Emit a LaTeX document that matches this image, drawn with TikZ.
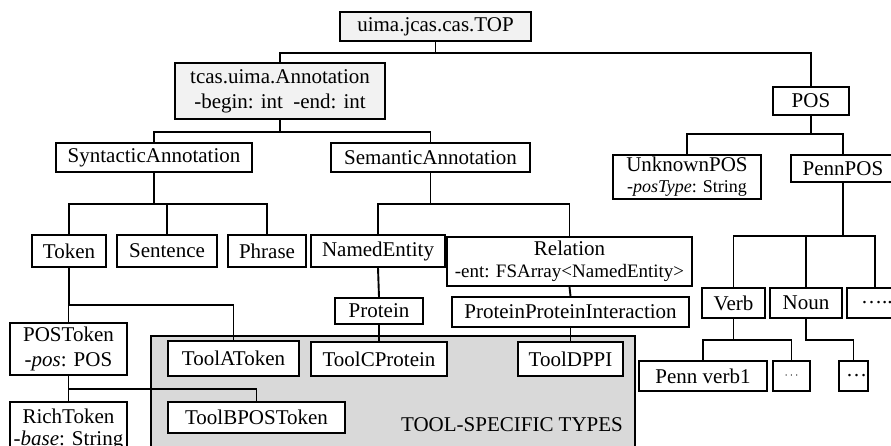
\documentclass[tikz,border=0pt]{standalone}
\usepackage{fontspec}
\setmainfont{Liberation Serif}
\tikzset{
  typebox/.style = {draw, fill = white, line width = 1.9pt, inner sep = 0pt, align = center},
  rootbox/.style = {typebox, fill = gray!10},
  link/.style = {line width = 1.9pt}
}
\begin{document}
\begin{tikzpicture}[x = 1pt, y = -1pt, font = \fontsize{21}{25}\selectfont]
      \clip (0, 0) rectangle (891, 446);
      \fill [white] (0, 0) rectangle (891, 446);
      \draw [line width = 1.9pt, fill = gray!30] (151, 336) rectangle (635, 460);
      \node at (512, 425) {TOOL-SPECIFIC TYPES};
      % upper levels
      \node [rootbox, minimum width = 191pt, minimum height = 29pt] (top) at (435.5, 26.5) {uima.jcas.cas.TOP};
      \node [rootbox, minimum width = 210pt, minimum height = 56pt] (ann) at (280, 91) {tcas.uima.Annotation\\-begin: int\ \ -end: int};
      \node [typebox, minimum width = 76pt, minimum height = 28pt] (pos) at (811, 101) {POS};
      \node [typebox, minimum width = 196pt, minimum height = 29pt] (syn) at (154, 157.5) {SyntacticAnnotation};
      \node [typebox, minimum width = 199pt, minimum height = 29pt] (sem) at (430.5, 157.5) {SemanticAnnotation};
      \node [typebox, minimum width = 148pt, minimum height = 44pt] (unk) at (687, 177) {UnknownPOS\\[-4pt]{\fontsize{18}{18}\selectfont\textit{-posType}: String}};
      \node [typebox, minimum width = 104pt, minimum height = 27pt] (penn) at (843, 168.5) {PennPOS};
      % syntactic and semantic types
      \node [typebox, minimum width = 74pt, minimum height = 32pt] (token) at (69, 251) {Token};
      \node [typebox, minimum width = 100pt, minimum height = 32pt] (sentence) at (167, 251) {Sentence};
      \node [typebox, minimum width = 78pt, minimum height = 32pt] (phrase) at (267, 251) {Phrase};
      \node [typebox, minimum width = 134pt, minimum height = 32pt] (entity) at (378, 251) {NamedEntity};
      \node [typebox, minimum width = 245pt, minimum height = 49pt] (relation) at (569.5, 261.5) {Relation\\[-3pt]{\fontsize{19}{19}\selectfont -ent: FSArray<NamedEntity>}};
      \node [typebox, minimum width = 88pt, minimum height = 26pt] (protein) at (379, 311) {Protein};
      \node [typebox, minimum width = 237pt, minimum height = 30pt] (ppi) at (570.5, 312) {ProteinProteinInteraction};
      \node [typebox, minimum width = 117pt, minimum height = 52pt] (postoken) at (68.5, 349) {POSToken\\\textit{-pos}: POS};
      \node [typebox, minimum width = 117pt, minimum height = 50pt, anchor = north] (rich) at (68.5, 401) {\rule{0pt}{19pt}RichToken\\[-3pt]\textit{-base}: String};
      % tool-specific types
      \node [typebox, minimum width = 131pt, minimum height = 35pt] (toola) at (233.5, 358.5) {ToolAToken};
      \node [typebox, minimum width = 136pt, minimum height = 34pt] (toolc) at (379, 359) {ToolCProtein};
      \node [typebox, minimum width = 105pt, minimum height = 34pt] (toold) at (570.5, 359) {ToolDPPI};
      \node [typebox, minimum width = 177pt, minimum height = 31pt] (toolb) at (256.5, 417.5) {ToolBPOSToken};
      % penn tags
      \node [typebox, minimum width = 63pt, minimum height = 30pt] (verb) at (733.5, 303) {Verb};
      \node [typebox, minimum width = 72pt, minimum height = 30pt] (noun) at (806, 303) {Noun};
      \node [typebox, minimum width = 56pt, minimum height = 30pt] (moretags) at (875, 303) {\,…..};
      \node [typebox, minimum width = 128pt, minimum height = 30pt] (verbone) at (703, 376) {Penn verb1};
      \node [typebox, minimum width = 37pt, minimum height = 30pt] (verbdots) at (791.5, 376) {\fontsize{12}{12}\selectfont$\cdots$};
      \node [typebox, minimum width = 29pt, minimum height = 30pt] (noundots) at (853.5, 376) {\hspace*{6pt}…};
      % connectors
      \draw [link] (top.south) -- ++(0, 11) -| (ann.north);
      \draw [link] (top.south) -- ++(0, 11) -| (pos.north);
      \draw [link] (ann.south) -- ++(0, 12) -| (syn.north);
      \draw [link] (ann.south) -- ++(0, 12) -| (sem.north);
      \draw [link] (pos.south) -- ++(0, 18) -| (unk.north);
      \draw [link] (pos.south) -- ++(0, 18) -| (penn.north);
      \foreach \child in {token, sentence, phrase}{
        \draw [link] (syn.south) -- ++(0, 31) -| (\child.north);
      }
      \foreach \child in {entity, relation}{
        \draw [link] (sem.south) -- ++(0, 31) -| (\child.north);
      }
      \foreach \child in {verb, noun, moretags}{
        \draw [link] (penn.south) -- ++(0, 53) -| (\child.north);
      }
      \draw [link] (token.south) -- ++(0, 37) -| (postoken.north);
      \draw [link] (token.south) -- ++(0, 37) -| (toola.north);
      \draw [link] (postoken.south) -- ++(0, 13) -| (rich.north);
      \draw [link] (postoken.south) -- ++(0, 13) -| (toolb.north);
      \draw [link] (entity.south) -- (protein.north);
      \draw [link] (protein.south) -- (toolc.north);
      \draw [link] (relation.south) -- (ppi.north);
      \draw [link] (ppi.south) -- (toold.north);
      \draw [link] (verb.south) -- ++(0, 21) -| (verbone.north);
      \draw [link] (verb.south) -- ++(0, 21) -| (verbdots.north);
      \draw [link] (noun.south) -- ++(0, 21) -| (noundots.north);
    \end{tikzpicture}
\end{document}
